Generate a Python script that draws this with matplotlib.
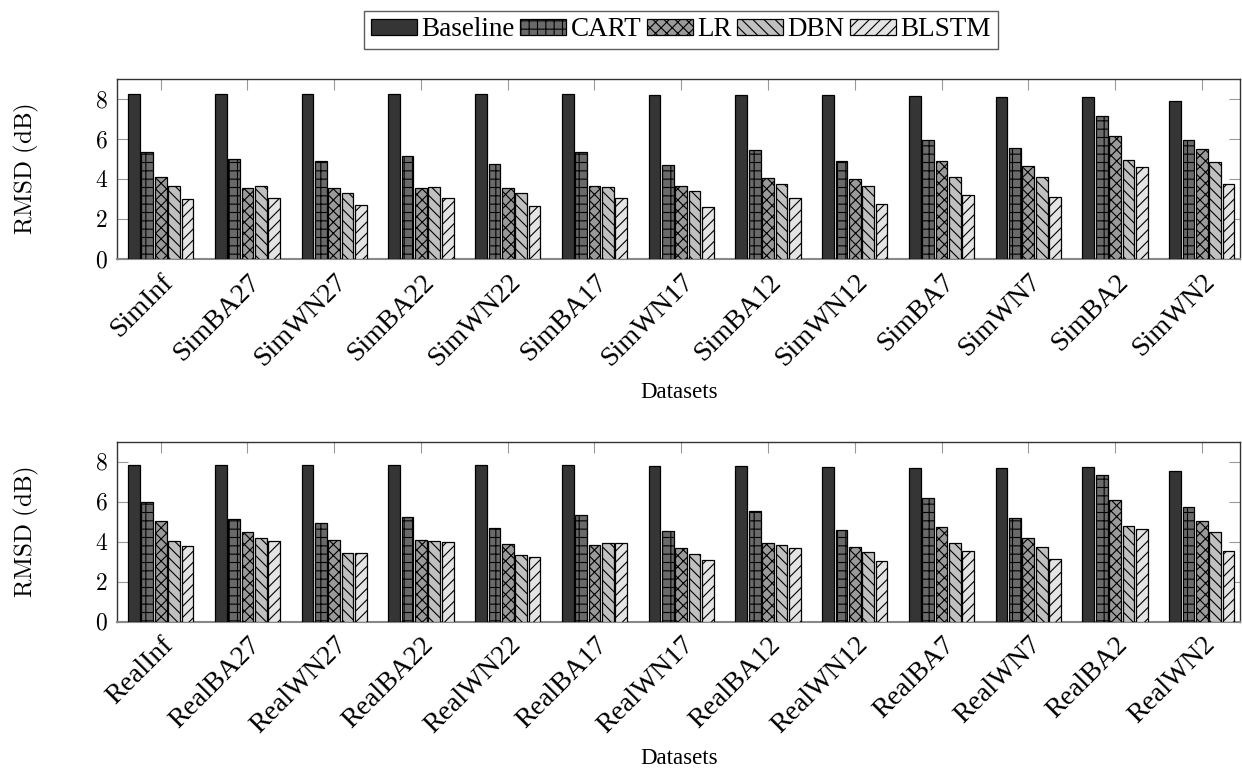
import matplotlib
matplotlib.use("Agg")
import matplotlib.pyplot as plt
import numpy as np
from matplotlib.patches import Patch
from matplotlib.ticker import FuncFormatter
from matplotlib.transforms import ScaledTranslation

sim_labels = ["SimInf", "SimBA27", "SimWN27", "SimBA22", "SimWN22", "SimBA17", "SimWN17",
              "SimBA12", "SimWN12", "SimBA7", "SimWN7", "SimBA2", "SimWN2"]
real_labels = ["RealInf", "RealBA27", "RealWN27", "RealBA22", "RealWN22", "RealBA17", "RealWN17",
               "RealBA12", "RealWN12", "RealBA7", "RealWN7", "RealBA2", "RealWN2"]
methods = ["Baseline", "CART", "LR", "DBN", "BLSTM"]

sim_baseline = [8.25, 8.25, 8.25, 8.25, 8.25, 8.25, 8.22, 8.22, 8.20, 8.13, 8.10, 8.10, 7.90]
sim_cart     = [5.37, 4.98, 4.90, 5.13, 4.77, 5.33, 4.70, 5.47, 4.90, 5.95, 5.53, 7.13, 5.97]
sim_lr       = [4.12, 3.57, 3.53, 3.53, 3.55, 3.63, 3.63, 4.07, 3.98, 4.88, 4.65, 6.13, 5.52]
sim_dbn      = [3.63, 3.63, 3.28, 3.58, 3.28, 3.58, 3.38, 3.75, 3.67, 4.12, 4.08, 4.97, 4.83]
sim_blstm    = [3.00, 3.03, 2.70, 3.07, 2.63, 3.07, 2.62, 3.03, 2.73, 3.22, 3.08, 4.58, 3.73]

real_baseline = [7.82, 7.82, 7.82, 7.82, 7.82, 7.82, 7.78, 7.78, 7.75, 7.70, 7.68, 7.72, 7.55]
real_cart     = [5.99, 5.12, 4.94, 5.24, 4.69, 5.34, 4.52, 5.54, 4.59, 6.18, 5.19, 7.35, 5.72]
real_lr       = [5.02, 4.49, 4.08, 4.08, 3.88, 3.82, 3.70, 3.93, 3.73, 4.72, 4.17, 6.11, 5.04]
real_dbn      = [4.02, 4.17, 3.43, 4.05, 3.35, 3.93, 3.40, 3.82, 3.50, 3.93, 3.75, 4.80, 4.47]
real_blstm    = [3.78, 4.02, 3.43, 3.98, 3.23, 3.92, 3.11, 3.68, 3.06, 3.53, 3.13, 4.65, 3.56]

yticks = [0, 2, 4, 6, 8]

colors = ["#353535", "#6a6a6a", "#9a9a9a", "#c0c0c0", "#e4e4e4"]
hatches = [None, "++", "xxx", "\\\\\\", "///"]

plt.rcParams["mathtext.fontset"] = "cm"
plt.rcParams["hatch.linewidth"] = 0.8
plt.rcParams["font.family"] = ["Liberation Serif", "DejaVu Serif"]

fig = plt.figure(figsize=(12.42, 7.83), dpi=100)
W, H = 1242.0, 783.0
LEFT, RIGHT = 117.3, 1240.0

def make_axes(top_px, bottom_px):
    return fig.add_axes([LEFT / W, 1 - bottom_px / H, (RIGHT - LEFT) / W, (bottom_px - top_px) / H])

ax1 = make_axes(79.0, 259.0)
ax2 = make_axes(441.7, 621.7)

bw = 0.135
step = 0.154

def draw(ax, labels, series):
    x = np.arange(len(labels))
    for j, vals in enumerate(series):
        ax.bar(x + (j - 2) * step, vals, width=bw, color=colors[j], hatch=hatches[j],
               edgecolor="black", linewidth=0.9, zorder=3)
    ax.set_xlim(-0.5, 12.44)
    ax.set_ylim(0, 9)
    ax.set_yticks(yticks)
    ax.yaxis.set_major_formatter(FuncFormatter(lambda v, p: r"$%d$" % v))
    ax.set_xticks(x)
    ax.set_xticklabels(labels, rotation=45, ha="right", va="center",
                       rotation_mode="anchor", fontsize=20)
    ax.tick_params(axis="x", direction="in", length=8, color="#999999", top=True,
                   bottom=True, pad=14)
    ax.tick_params(axis="y", direction="in", length=8, color="#999999", left=True,
                   right=True, labelsize=17, pad=7)
    for lab in ax.get_xticklabels():
        lab.set_transform(lab.get_transform() + ScaledTranslation(9 / 100, 0, fig.dpi_scale_trans))
    for s in ["top", "left", "right"]:
        ax.spines[s].set_color("#333333")
        ax.spines[s].set_linewidth(1.0)
    ax.spines["bottom"].set_color("#888888")
    ax.spines["bottom"].set_linewidth(1.5)
    ax.set_ylabel(r"$\mathrm{RMSD\ (dB)}$", fontsize=18)
    ax.yaxis.set_label_coords(-(LEFT - 41) / (RIGHT - LEFT), 0.5)
    ax.set_xlabel("Datasets", fontsize=16.5)

draw(ax1, sim_labels, [sim_baseline, sim_cart, sim_lr, sim_dbn, sim_blstm])
draw(ax2, real_labels, [real_baseline, real_cart, real_lr, real_dbn, real_blstm])

ax1.xaxis.set_label_coords(0.5, -(382 - 259) / 180.0)
ax2.xaxis.set_label_coords(0.5, -(748 - 621.7) / 180.0)

handles = [Patch(facecolor=colors[j], edgecolor="black", hatch=hatches[j], linewidth=0.9)
           for j in range(5)]
leg = fig.legend(handles, methods, loc="center", bbox_to_anchor=(681 / W, 1 - 30 / H),
                 ncol=5, frameon=True, fancybox=False, edgecolor="#333333", fontsize=19.5,
                 handlelength=1.7, handleheight=0.55, handletextpad=0.18, columnspacing=0.18,
                 borderpad=0.25, borderaxespad=0)
leg.get_frame().set_linewidth(1.0)

fig.savefig("out.png", dpi=100)
